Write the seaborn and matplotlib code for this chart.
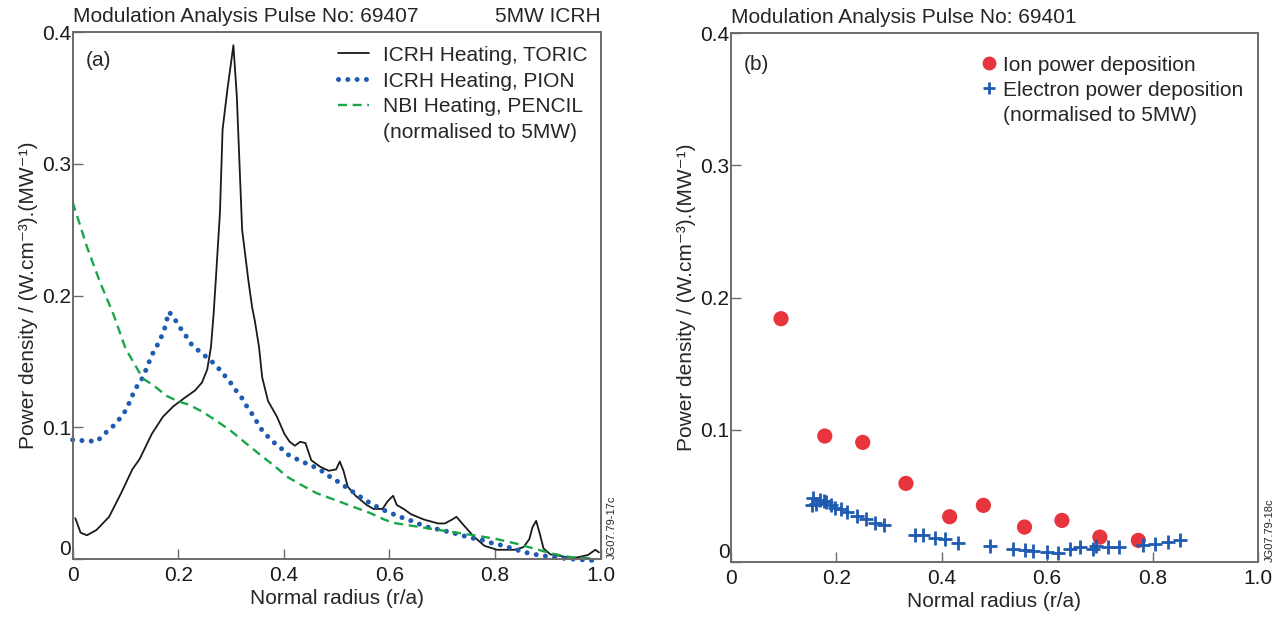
import numpy as np
import pandas as pd
import seaborn as sns
import matplotlib.pyplot as plt
from matplotlib.lines import Line2D

# ---- panel (a): heating profiles, pulse 69407 ----
toric_x = [0.005, 0.015, 0.027, 0.045, 0.069, 0.093, 0.113, 0.127, 0.150, 0.171, 0.191, 0.211,
           0.232, 0.245, 0.255, 0.262, 0.267, 0.271, 0.279, 0.284, 0.293, 0.3045, 0.311, 0.321,
           0.333, 0.340, 0.345, 0.353, 0.359, 0.370, 0.387, 0.401, 0.411, 0.421, 0.431, 0.441,
           0.452, 0.469, 0.485, 0.499, 0.506, 0.513, 0.521, 0.536, 0.557, 0.570, 0.587, 0.597,
           0.607, 0.614, 0.627, 0.641, 0.665, 0.692, 0.705, 0.719, 0.727, 0.740, 0.760, 0.780,
           0.804, 0.837, 0.854, 0.865, 0.871, 0.878, 0.885, 0.892, 0.905, 0.936, 0.953, 0.976,
           0.990, 0.997]
toric_y = [0.031, 0.020, 0.018, 0.022, 0.032, 0.051, 0.068, 0.076, 0.095, 0.108, 0.116, 0.122,
           0.128, 0.134, 0.144, 0.161, 0.186, 0.211, 0.263, 0.326, 0.356, 0.390, 0.351, 0.250,
           0.211, 0.191, 0.181, 0.161, 0.138, 0.120, 0.108, 0.095, 0.089, 0.086, 0.089, 0.088,
           0.075, 0.070, 0.067, 0.068, 0.074, 0.067, 0.055, 0.048, 0.041, 0.038, 0.038, 0.044,
           0.048, 0.041, 0.038, 0.034, 0.030, 0.027, 0.027, 0.030, 0.032, 0.026, 0.017, 0.010,
           0.007, 0.007, 0.009, 0.015, 0.024, 0.029, 0.019, 0.008, 0.0035, 0.0015, 0.001, 0.003,
           0.007, 0.005]

pion_x = [0.0, 0.015, 0.032, 0.047, 0.057, 0.069, 0.081, 0.091, 0.100, 0.106, 0.113, 0.120,
          0.129, 0.135, 0.142, 0.147, 0.154, 0.162, 0.169, 0.175, 0.182, 0.190, 0.198, 0.208,
          0.217, 0.225, 0.236, 0.248, 0.261, 0.272, 0.284, 0.292, 0.303, 0.311, 0.321, 0.328,
          0.336, 0.345, 0.353, 0.362, 0.372, 0.384, 0.398, 0.409, 0.421, 0.437, 0.452, 0.465,
          0.479, 0.492, 0.506, 0.518, 0.529, 0.543, 0.557, 0.570, 0.584, 0.598, 0.614, 0.627,
          0.643, 0.658, 0.672, 0.687, 0.702, 0.717, 0.733, 0.747, 0.763, 0.779, 0.794, 0.808,
          0.824, 0.840, 0.854, 0.869, 0.885, 0.900, 0.915, 0.931, 0.947, 0.963, 0.980, 0.995]
pion_y = [0.0905, 0.090, 0.0895, 0.0895, 0.094, 0.098, 0.1025, 0.1075, 0.1125, 0.1175, 0.124,
          0.130, 0.135, 0.140, 0.1465, 0.152, 0.158, 0.1635, 0.1695, 0.176, 0.1875, 0.1845,
          0.179, 0.173, 0.168, 0.163, 0.159, 0.155, 0.151, 0.1465, 0.1415, 0.137, 0.132, 0.127,
          0.122, 0.117, 0.1125, 0.107, 0.101, 0.096, 0.092, 0.0875, 0.083, 0.079, 0.0765,
          0.0735, 0.071, 0.0685, 0.065, 0.061, 0.058, 0.0545, 0.0515, 0.0477, 0.044, 0.041,
          0.038, 0.0356, 0.033, 0.031, 0.0288, 0.0263, 0.0242, 0.023, 0.0217, 0.020, 0.0187,
          0.0167, 0.0154, 0.0141, 0.0121, 0.0109, 0.0091, 0.0071, 0.0053, 0.004, 0.0028, 0.002,
          0.001, 0.0005, 0.0, -0.0005, -0.001, -0.001]

nbi_x = [0.0, 0.027, 0.052, 0.077, 0.100, 0.120, 0.133, 0.154, 0.177, 0.198, 0.221, 0.245,
         0.272, 0.299, 0.326, 0.353, 0.381, 0.408, 0.435, 0.462, 0.496, 0.529, 0.563, 0.590,
         0.607, 0.638, 0.678, 0.719, 0.760, 0.800, 0.841, 0.875, 0.909, 0.942, 0.990]
nbi_y = [0.271, 0.237, 0.210, 0.186, 0.160, 0.146, 0.137, 0.1316, 0.124, 0.120, 0.117, 0.112,
         0.105, 0.0975, 0.0886, 0.0798, 0.071, 0.062, 0.0558, 0.050, 0.045, 0.040, 0.035,
         0.030, 0.0275, 0.0255, 0.023, 0.0205, 0.018, 0.0154, 0.0116, 0.0078, 0.004, 0.0015,
         0.0003]

# ---- panel (b): modulation analysis, pulse 69401 ----
ion_x = [0.095, 0.178, 0.250, 0.332, 0.415, 0.479, 0.557, 0.628, 0.700, 0.773]
ion_y = [0.184, 0.0953, 0.0905, 0.0595, 0.0343, 0.0429, 0.0265, 0.0315, 0.0189, 0.0164]

elec_x = [0.153, 0.156, 0.162, 0.169, 0.176, 0.181, 0.189, 0.198, 0.208, 0.221, 0.239, 0.256,
          0.274, 0.291, 0.349, 0.364, 0.388, 0.406, 0.430, 0.491, 0.535, 0.557, 0.574, 0.599,
          0.621, 0.643, 0.662, 0.687, 0.692, 0.716, 0.736, 0.782, 0.805, 0.830, 0.853]
elec_y = [0.0434, 0.0487, 0.0437, 0.0469, 0.0461, 0.0454, 0.0429, 0.0411, 0.0398, 0.0378,
          0.0348, 0.0328, 0.0298, 0.028, 0.0202, 0.0202, 0.0184, 0.0172, 0.0146, 0.0121,
          0.0101, 0.0091, 0.0083, 0.0076, 0.0071, 0.0096, 0.0113, 0.0096, 0.0121, 0.0116,
          0.0116, 0.0129, 0.0139, 0.0151, 0.0166]

x_ticks = [0, 0.2, 0.4, 0.6, 0.8, 1.0]
x_labels = ['0', '0.2', '0.4', '0.6', '0.8', '1.0']
y_ticks = [0, 0.1, 0.2, 0.3, 0.4]
y_labels = ['0', '0.1', '0.2', '0.3', '0.4']

BLACK = '#1a1a1a'
BLUE = '#1f5bb0'
GREEN = '#19a64a'
RED = '#e8353d'
SPINE = '#6b6b6b'
FS = 15

PION_LS = (0, (0.01, 1.85))
NBI_LS = (0, (3.8, 2.4))

sns.set_style('ticks')
plt.rcParams['font.family'] = ['Liberation Sans', 'DejaVu Sans']
plt.rcParams['font.size'] = FS

fig = plt.figure(figsize=(12.86, 6.17), dpi=100)
ax1 = fig.add_axes([0.0565, 0.094, 0.4105, 0.854])
ax2 = fig.add_axes([0.5684, 0.089, 0.4098, 0.8575])

ylabel = 'Power density / (W.cm\u207b\u00b3).(MW\u207b\u00b9)'


def style_axes(ax):
    ax.set_xlim(0, 1.0)
    ax.set_ylim(0, 0.4)
    ax.set_xticks(x_ticks)
    ax.set_xticklabels(x_labels)
    ax.set_yticks(y_ticks)
    ax.set_yticklabels(y_labels)
    ax.tick_params(direction='in', length=7, width=1.0, color=SPINE, labelsize=FS,
                   colors=BLACK)
    ax.tick_params(axis='y', pad=1)
    ax.tick_params(axis='x', pad=5)
    # the "0" on the y axis sits a little above its tick, clear of the x "0"
    ax.get_yticklabels()[0].set_va('bottom')
    for s in ax.spines.values():
        s.set_color(SPINE)
        s.set_linewidth(1.4)
    ax.set_xlabel('Normal radius (r/a)', fontsize=FS, labelpad=3)
    ax.set_ylabel(ylabel, fontsize=FS, labelpad=3)


# panel (a)
sns.lineplot(x=toric_x, y=toric_y, ax=ax1, sort=False, estimator=None,
             color=BLACK, linewidth=1.3)
sns.lineplot(x=pion_x, y=pion_y, ax=ax1, sort=False, estimator=None,
             color=BLUE, linewidth=3.6, linestyle=PION_LS,
             dash_capstyle='round', clip_on=False)
sns.lineplot(x=nbi_x, y=nbi_y, ax=ax1, sort=False, estimator=None,
             color=GREEN, linewidth=1.7, linestyle=NBI_LS)
style_axes(ax1)
ax1.set_title('Modulation Analysis Pulse No: 69407', loc='left', fontsize=FS, pad=7)
ax1.set_title('5MW ICRH', loc='right', fontsize=FS, pad=7)
ax1.text(0.024, 0.965, '(a)', transform=ax1.transAxes, fontsize=FS, va='top')
ax1.text(1.022, 0.0, 'JG07.79-17c', transform=ax1.transAxes, fontsize=8,
         rotation=90, va='bottom', ha='center')

h1 = [Line2D([], [], color=BLACK, linewidth=1.3),
      Line2D([], [], color=BLUE, linewidth=3.6, linestyle=PION_LS,
             dash_capstyle='round'),
      Line2D([], [], color=GREEN, linewidth=1.7, linestyle=NBI_LS),
      Line2D([], [], color='none')]
l1 = ['ICRH Heating, TORIC', 'ICRH Heating, PION', 'NBI Heating, PENCIL',
      '(normalised to 5MW)']
ax1.legend(h1, l1, loc='upper right', bbox_to_anchor=(1.0, 1.0), frameon=False,
           fontsize=FS, handlelength=1.5, handletextpad=0.65, labelspacing=0.33,
           borderaxespad=0.25)

# panel (b)
sns.scatterplot(x=ion_x, y=ion_y, ax=ax2, color=RED, s=120, marker='o',
                edgecolor='none', zorder=3)
sns.scatterplot(x=elec_x, y=elec_y, ax=ax2, color=BLUE, s=110, marker='+',
                linewidth=2.0, zorder=4)
style_axes(ax2)
ax2.set_title('Modulation Analysis Pulse No: 69401', loc='left', fontsize=FS, pad=7)
ax2.text(0.024, 0.958, '(b)', transform=ax2.transAxes, fontsize=FS, va='top')
ax2.text(1.022, 0.0, 'JG07.79-18c', transform=ax2.transAxes, fontsize=8,
         rotation=90, va='bottom', ha='center')

h2 = [Line2D([], [], color=RED, marker='o', linestyle='none', markersize=10,
             markeredgecolor='none'),
      Line2D([], [], color=BLUE, marker='+', linestyle='none', markersize=9,
             markeredgewidth=2.0),
      Line2D([], [], color='none')]
l2 = ['Ion power deposition', 'Electron power deposition', '(normalised to 5MW)']
ax2.legend(h2, l2, loc='upper right', bbox_to_anchor=(1.0, 0.985), frameon=False,
           fontsize=FS, handlelength=0.7, handletextpad=0.35, labelspacing=0.3,
           borderaxespad=0.3)

fig.savefig('out.png', dpi=100)
